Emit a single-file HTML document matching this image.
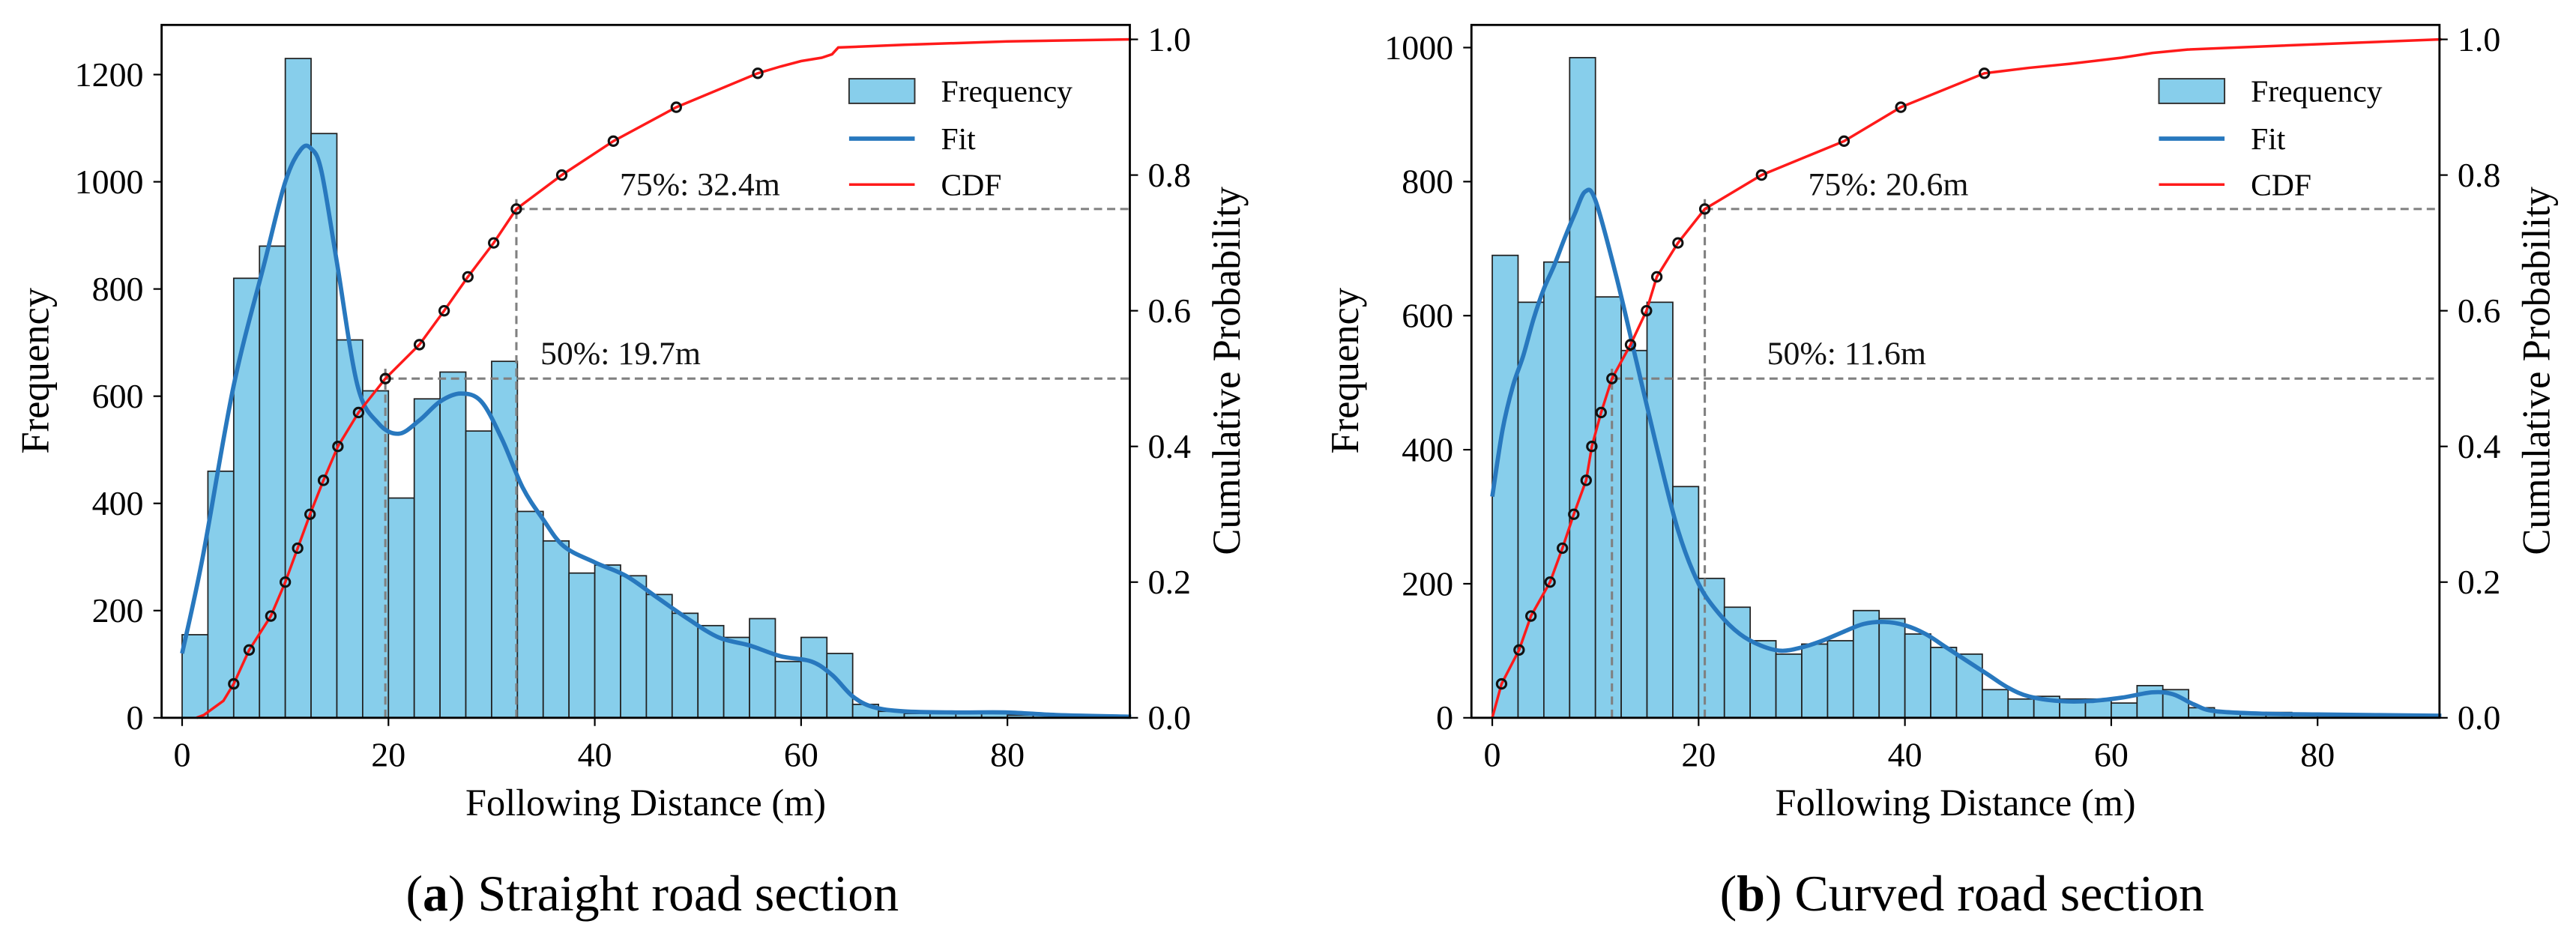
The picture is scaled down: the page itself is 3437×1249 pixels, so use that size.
<!DOCTYPE html>
<html><head><meta charset="utf-8">
<style>
html,body{margin:0;padding:0;background:#fff;}
svg{display:block;font-family:"Liberation Serif",serif;}
</style></head>
<body>
<svg id="fig" xmlns="http://www.w3.org/2000/svg" width="3437" height="1249" viewBox="0 0 1570 570.5" preserveAspectRatio="none"></svg>
<script>
// ---------- data: panel (a) straight ----------
const binWidth = 2.5;
const freqA = [155,460,820,880,1230,1090,705,610,410,595,645,535,665,385,330,270,285,265,230,195,172,150,185,105,150,120,25,12,8,8,8,8,5,5,3,2,2];
const fitXA = [0,2,5,8,10,11.5,12.5,13.5,15,17,19,21,23,25,27,29,31,33,35,37,40,43,46,49,52,55,58,61,63,65,67,70,75,80,85,92];
const fitYA = [120,300,620,850,1000,1060,1062,1020,850,620,550,530,555,590,605,590,520,430,370,320,290,265,225,185,150,135,115,105,80,40,20,12,10,10,5,2];
const cdfXA = [1.4,2.1,4,5,6.5,8.6,10,11.2,12.4,13.7,15.1,17.1,19.7,23,25.4,27.7,30.2,32.4,36.8,41.8,47.9,55.8,58,60,62,63,63.6,70,80,92];
const cdfYA = [0,0.004,0.025,0.05,0.1,0.15,0.2,0.25,0.3,0.35,0.4,0.45,0.5,0.55,0.6,0.65,0.7,0.75,0.8,0.85,0.9,0.95,0.96,0.968,0.973,0.978,0.988,0.992,0.997,1.0];
const qXA = [5,6.5,8.6,10,11.2,12.4,13.7,15.1,17.1,19.7,23,25.4,27.7,30.2,32.4,36.8,41.8,47.9,55.8];
const yTicksA = [0,200,400,600,800,1000,1200];
// ---------- data: panel (b) curved ----------
const freqB = [690,620,680,985,628,548,620,345,208,165,115,95,110,115,160,148,125,105,95,42,28,32,28,28,22,48,42,15,8,8,8,6,5,5,5,4,4];
const fitXB = [0,1,2,3,4,5,6,7,8,9,10,12,14,16,18,20,22,24,26,28,30,32,34,36,38,40,42,44,46,48,50,52,55,58,61,64,66,68,70,75,80,92];
const fitYB = [330,430,495,540,595,640,675,715,752,785,772,660,530,400,280,200,155,125,108,100,105,115,128,140,143,138,125,105,85,65,45,32,25,25,30,38,35,20,10,6,5,3];
const cdfXB = [0,0.9,2.6,3.75,5.6,6.8,7.9,9.1,9.65,10.55,11.6,13.4,14.95,15.95,18,20.6,26.1,34.1,39.6,47.7,52,56,61,64,67.4,75.3,92];
const cdfYB = [0,0.05,0.1,0.15,0.2,0.25,0.3,0.35,0.4,0.45,0.5,0.55,0.6,0.65,0.7,0.75,0.8,0.85,0.9,0.95,0.958,0.964,0.973,0.98,0.985,0.99,1.0];
const qXB = [0.9,2.6,3.75,5.6,6.8,7.9,9.1,9.65,10.55,11.6,13.4,14.95,15.95,18,20.6,26.1,34.1,39.6,47.7];
const qProbs = [0.05,0.1,0.15,0.2,0.25,0.3,0.35,0.4,0.45,0.5,0.55,0.6,0.65,0.7,0.75,0.8,0.85,0.9,0.95];
const yTicksB = [0,200,400,600,800,1000];
const xTicks = [0,20,40,60,80];
const pTicks = [0,0.2,0.4,0.6,0.8,1.0];
const medianA = 19.7, q75A = 32.4, medianB = 11.6, q75B = 20.6;

const NS = "http://www.w3.org/2000/svg";
const svg = document.getElementById('fig');
function mk(tag, attrs, parent){
  const e = document.createElementNS(NS, tag);
  for (const k in attrs) e.setAttribute(k, attrs[k]);
  (parent||svg).appendChild(e);
  return e;
}
function spline(pts){
  let d = `M${pts[0][0]},${pts[0][1]}`;
  for (let i=0;i<pts.length-1;i++){
    const p0=pts[Math.max(0,i-1)], p1=pts[i], p2=pts[i+1], p3=pts[Math.min(pts.length-1,i+2)];
    const c1=[p1[0]+(p2[0]-p0[0])/6, p1[1]+(p2[1]-p0[1])/6];
    const c2=[p2[0]-(p3[0]-p1[0])/6, p2[1]-(p3[1]-p1[1])/6];
    d += ` C${c1[0]},${c1[1]} ${c2[0]},${c2[1]} ${p2[0]},${p2[1]}`;
  }
  return d;
}

function panel(cfg){
  const g = mk('g', {});
  
  
  const L=cfg.left, R=cfg.right, T=15.2, B=437.5;
  const sx = v => cfg.x0 + v*6.2875;
  const sy = v => B - v*cfg.ky;
  const sp = p => B - p*413.5;
  const bars = mk('g', {}, g);
  
  
  cfg.freq.forEach((f,i)=>{
    const x1 = sx(i*binWidth), x2 = sx((i+1)*binWidth);
    if (x1 >= R) return;
    const r = mk('rect', {x:x1, y:sy(f), width:Math.min(x2,R)-x1, height:B-sy(f), fill:'#87CEEB', stroke:'#222', 'stroke-width':0.8}, bars);
    
    
  });
  const dq = (q,p,nm)=>{
    const l1 = mk('line',{x1:sx(q),x2:R,y1:sp(p),y2:sp(p),stroke:'#808080','stroke-width':1.4,'stroke-dasharray':'5,3'},g);
    
    
    const l2 = mk('line',{x1:sx(q),x2:sx(q),y1:B,y2:sp(p)-6,stroke:'#808080','stroke-width':1.4,'stroke-dasharray':'5,3'},g);
    
    
  };
  dq(cfg.med,0.5,'median');
  dq(cfg.q75,0.75,'q75');
  const fit = mk('path',{d:spline(cfg.fitX.map((x,i)=>[sx(x),sy(cfg.fitY[i])])),fill:'none',stroke:'#2878be','stroke-width':2.6},g);
  
  
  const cdf = mk('polyline',{points:cfg.cdfX.map((x,i)=>sx(x)+','+sp(cfg.cdfY[i])).join(' '),fill:'none',stroke:'#ff1a1a','stroke-width':1.6},g);
  
  
  cfg.qX.forEach((q,i)=>{
    const c = mk('circle',{cx:sx(q),cy:sp(qProbs[i]),r:2.8,fill:'none',stroke:'#111','stroke-width':1.4},g);
    
    
  });
  const a1 = mk('text',{x:sx(cfg.q75)+63,y:119,'font-size':20,fill:'#111'},g); a1.textContent = '75%: '+cfg.q75.toFixed(1)+'m';
  
  
  const a2 = mk('text',{x:sx(cfg.med)+94.5,y:222,'font-size':20,fill:'#111'},g); a2.textContent = '50%: '+cfg.med.toFixed(1)+'m';
  
  
  const fr = mk('rect',{x:L,y:T,width:R-L,height:B-T,fill:'none',stroke:'#000','stroke-width':1.3},g);
  
  
  xTicks.forEach(t=>{
    mk('line',{x1:sx(t),x2:sx(t),y1:B,y2:B+5,stroke:'#000','stroke-width':1},g);
    const tx = mk('text',{x:sx(t),y:467,'font-size':21,'text-anchor':'middle'},g); tx.textContent=t;
    
    
  });
  cfg.yTicks.forEach(t=>{
    mk('line',{x1:L-5,x2:L,y1:sy(t),y2:sy(t),stroke:'#000','stroke-width':1},g);
    const tx = mk('text',{x:L-11,y:sy(t)+7,'font-size':21,'text-anchor':'end'},g); tx.textContent=t;
    
    
  });
  pTicks.forEach(t=>{
    mk('line',{x1:R,x2:R+5,y1:sp(t),y2:sp(t),stroke:'#000','stroke-width':1},g);
    const tx = mk('text',{x:R+11,y:sp(t)+7,'font-size':21},g); tx.textContent=t.toFixed(1);
    
    
  });
  const xt = mk('text',{x:(L+R)/2,y:497,'font-size':23,'text-anchor':'middle'},g); xt.textContent='Following Distance (m)';
  
  
  const yt = mk('text',{x:0,y:0,'font-size':24,'text-anchor':'middle',transform:`translate(${L-69},226) rotate(-90)`},g); yt.textContent='Frequency';
  
  
  const rt = mk('text',{x:0,y:0,'font-size':24,'text-anchor':'middle',transform:`translate(${R+67},226) rotate(-90)`},g); rt.textContent='Cumulative Probability';
  
  
  const lg = mk('g',{},g);
  
  
  const lx = L+419;
  mk('rect',{x:lx,y:48,width:40,height:15,fill:'#87CEEB',stroke:'#333','stroke-width':0.9},lg);
  mk('line',{x1:lx,x2:lx+40,y1:84.5,y2:84.5,stroke:'#2878be','stroke-width':2.6},lg);
  mk('line',{x1:lx,x2:lx+40,y1:112.5,y2:112.5,stroke:'#ff1a1a','stroke-width':1.6},lg);
  [['Frequency',62],['Fit',91],['CDF',119]].forEach(([s,y])=>{
    const t = mk('text',{x:lx+56,y:y,'font-size':19},lg); t.textContent=s;
    
    
  });
  const cap = mk('text',{x:(L+R)/2+4,y:555,'font-size':31,'text-anchor':'middle'},g);
  cap.innerHTML = '(<tspan font-weight="bold">'+cfg.letter+'</tspan>) '+cfg.caption;
  
  
}

panel({id:'straight',left:98.5,right:688.6,x0:111,ky:0.3267,freq:freqA,fitX:fitXA,fitY:fitYA,cdfX:cdfXA,cdfY:cdfYA,qX:qXA,yTicks:yTicksA,med:medianA,q75:q75A,letter:'a',caption:'Straight road section'});
panel({id:'curved',left:896.8,right:1486.8,x0:909.5,ky:0.4085,freq:freqB,fitX:fitXB,fitY:fitYB,cdfX:cdfXB,cdfY:cdfYB,qX:qXB,yTicks:yTicksB,med:medianB,q75:q75B,letter:'b',caption:'Curved road section'});
</script>
</body></html>
